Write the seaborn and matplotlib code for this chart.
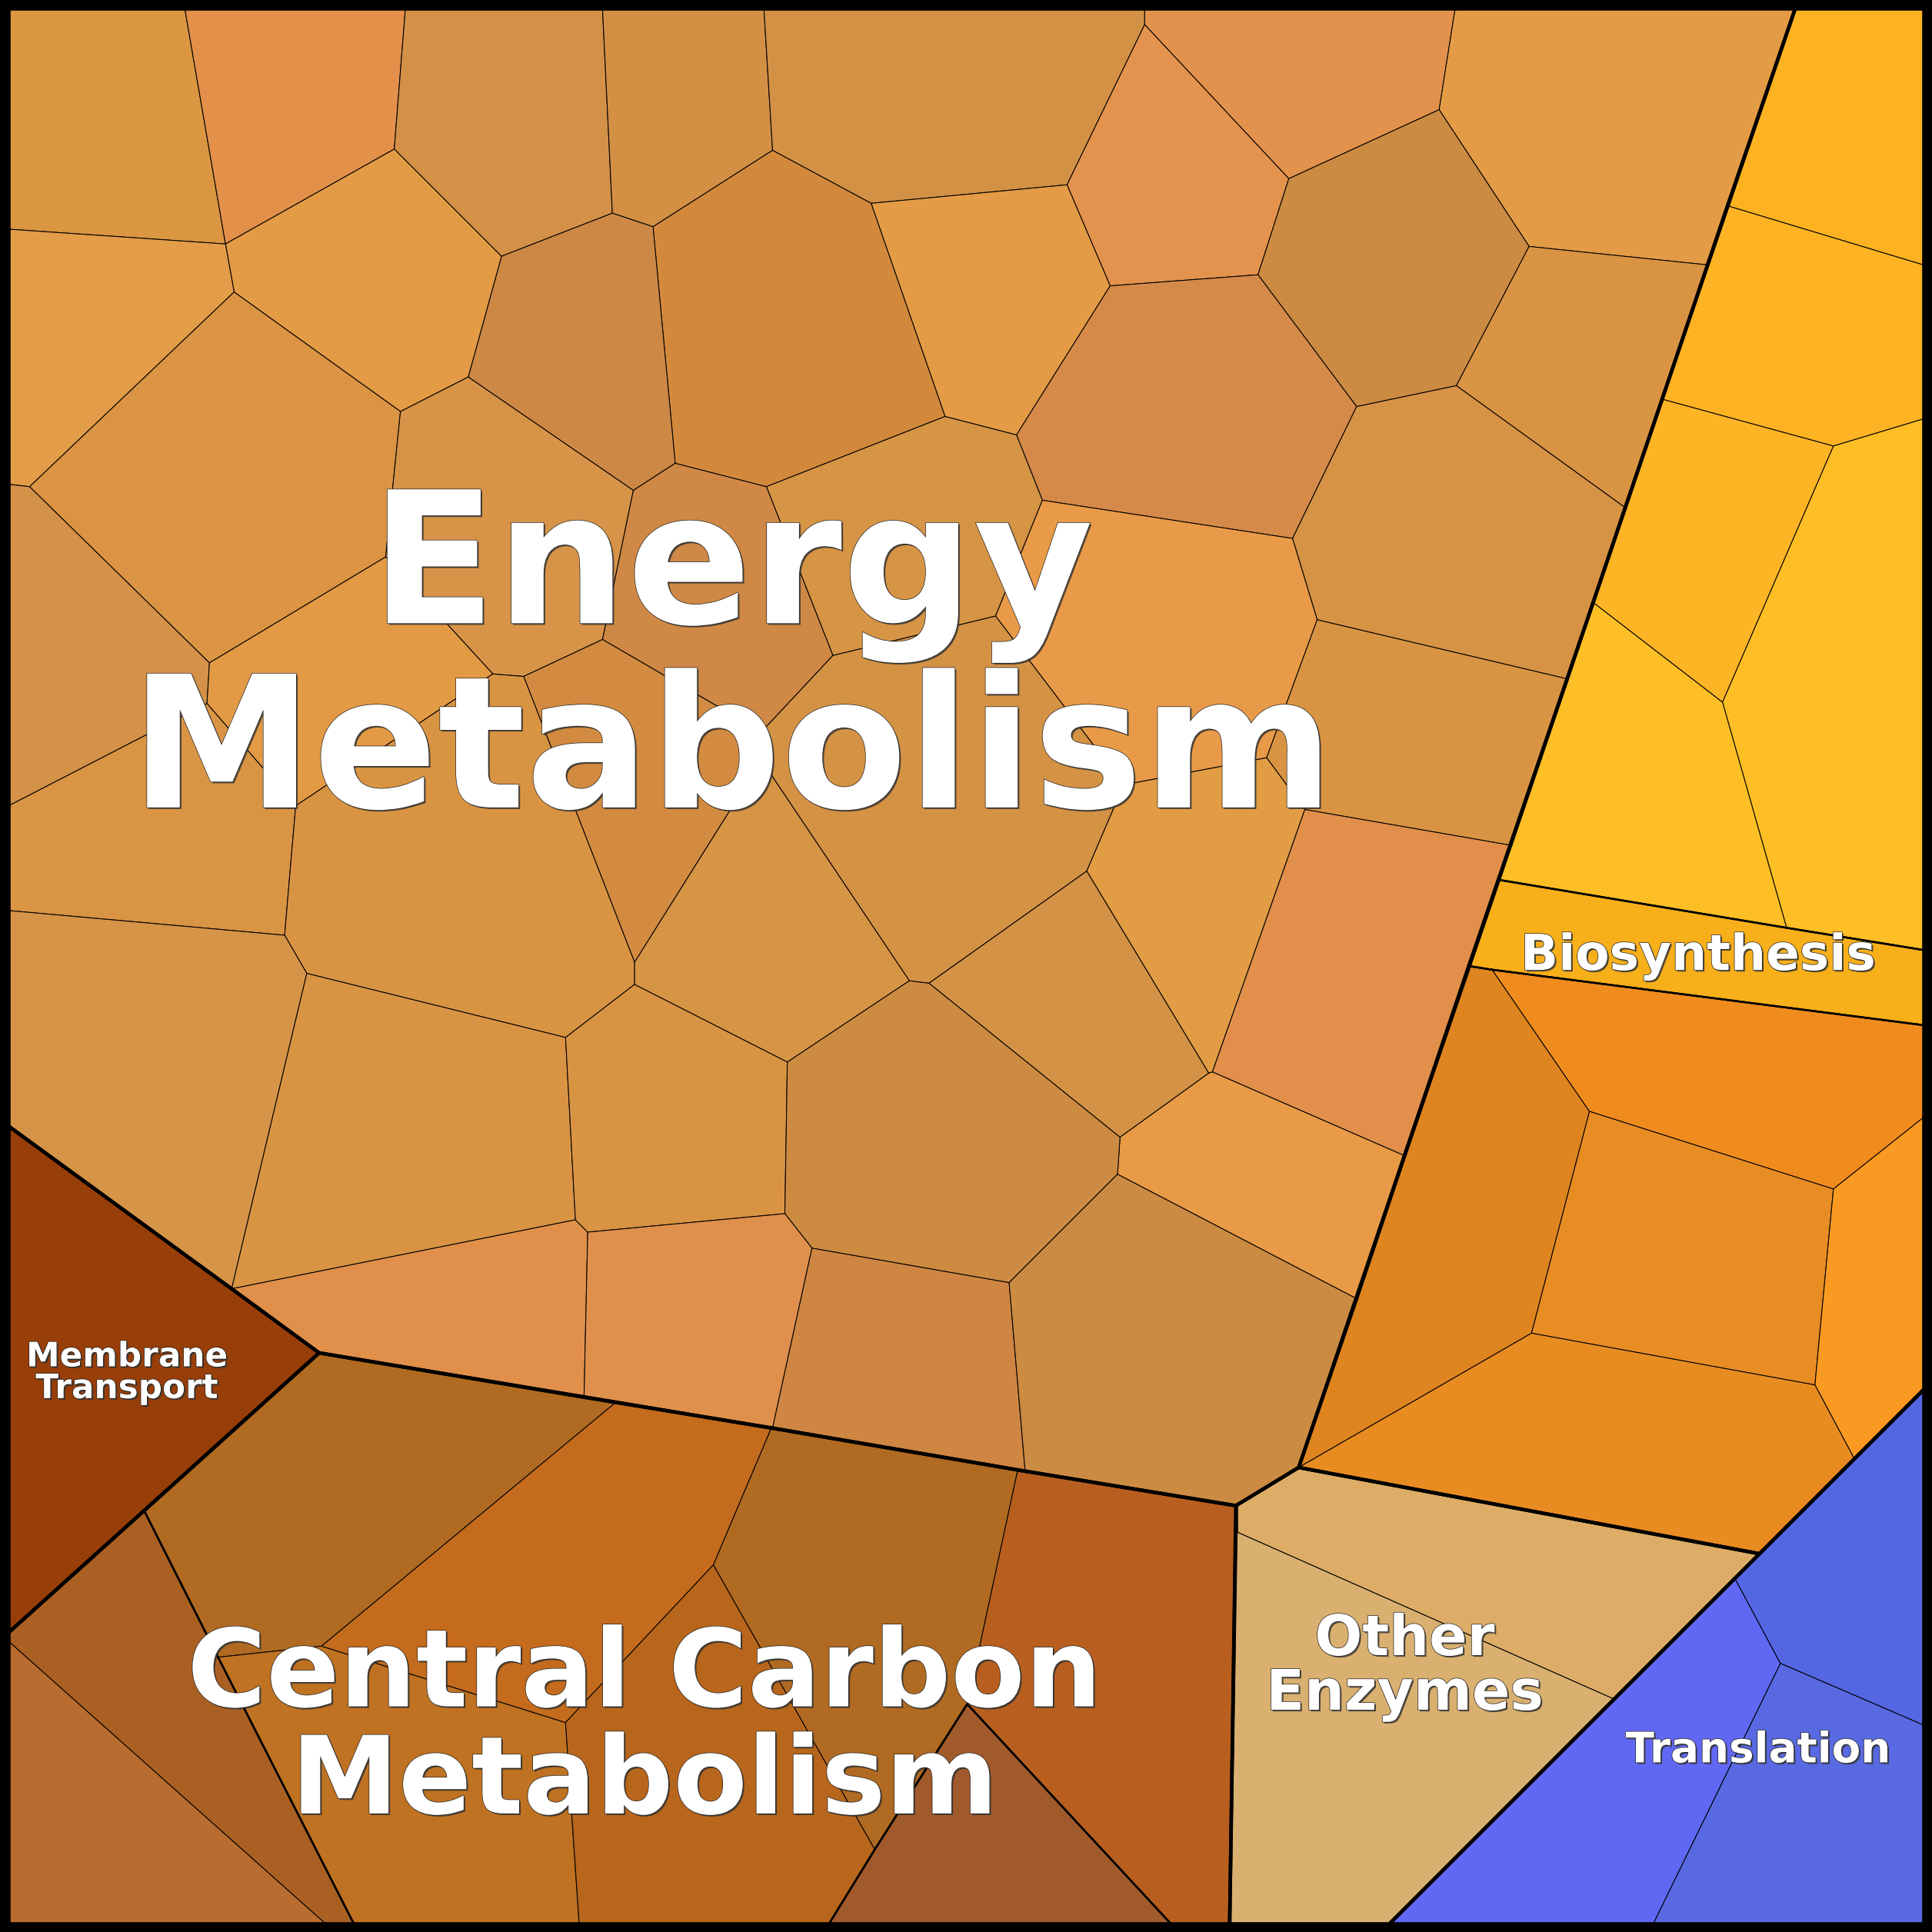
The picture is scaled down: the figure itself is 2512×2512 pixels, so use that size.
import matplotlib
matplotlib.use("Agg")
import matplotlib.pyplot as plt
import matplotlib.patheffects as pe
from matplotlib.patches import Polygon
from matplotlib.collections import LineCollection
import seaborn as sns

# inner edge of the black frame (layout grid is 1568 x 1568)
E0, E1 = 7, 1561

# Voronoi vertices
vertices = {
    "TL": (E0, E0), "TR": (E1, E0), "BR": (E1, E1), "BL": (E0, E1),
    "t1": (150, E0), "t2": (329, E0), "t3": (489, E0), "t4": (620, E0),
    "t5": (929, E0), "t6": (1181, E0), "t7": (1457, E0),
    "l1": (E0, 186), "l2": (E0, 393), "l3": (E0, 654), "l4": (E0, 739),
    "l5": (E0, 914), "l6": (E0, 1325), "l7": (E0, 1332),
    "r1": (E1, 215), "r2": (E1, 340), "r3": (E1, 771), "r4": (E1, 832),
    "r5": (E1, 907), "r6": (E1, 1128), "r7": (E1, 1400),
    "b1": (264, E1), "b2": (287, E1), "b3": (470, E1), "b4": (673, E1),
    "b5": (950, E1), "b6": (998, E1), "b7": (1128, E1), "b8": (1342, E1),
    # energy metabolism
    "b": (183, 198), "d": (320, 121), "e": (407, 208), "f": (497, 173),
    "g": (530, 184), "h": (627, 122), "i": (707, 165), "j": (866, 150),
    "k": (929, 20), "l": (1046, 145), "m": (1168, 89), "n": (1021, 223),
    "o": (901, 232), "p": (1241, 200), "r": (1182, 313), "s": (1101, 330),
    "u": (825, 353), "v": (767, 338), "w": (1049, 437), "x": (846, 406),
    "z": (1069, 503), "aa": (622, 395), "ab": (548, 376), "ac": (514, 398),
    "ad": (380, 306), "ae": (325, 334), "af": (190, 237), "ag": (24, 395),
    "ai": (313, 452), "aj": (170, 538), "ak": (168, 571), "am": (240, 654),
    "an": (400, 547), "ao": (425, 549), "ap": (489, 519), "aq": (676, 532),
    "ar": (808, 500), "as": (1028, 615), "at": (1059, 657), "av": (912, 637),
    "aw": (882, 707), "V2": (618, 594), "V1": (618, 617), "X1": (981, 871),
    "X2": (984, 870), "ay": (738, 796), "ax": (754, 798), "c1": (515, 781),
    "c2": (515, 799), "c3": (459, 842), "c4": (231, 759), "c5": (249, 790),
    "c6": (467, 990), "c7": (477, 1000), "c8": (637, 985), "c9": (639, 862),
    "c10": (659, 1013), "c11": (819, 1041), "c12": (907, 953), "c13": (909, 923),
    "q": (1386, 215), "t": (1319, 412), "y": (1272, 551), "au": (1226, 686),
    "d938": (1140, 938), "d1054": (1101, 1054), "D0": (1054, 1191), "D1": (1003, 1222),
    "eb1": (474, 1134), "eb2": (627, 1159), "eb3": (832, 1194),
    "mb": (188, 1046), "M0": (259, 1098),
    # central carbon metabolism
    "cm1": (117, 1226), "cc_a": (177, 1345), "cc_b": (261, 1336), "cc_c": (500, 1138),
    "cc_d": (459, 1398), "cc_e": (626, 1159), "cc_f": (579, 1270), "cc_g": (710, 1501),
    "cc_h": (826, 1193), "cc_i": (785, 1383),
    # biosynthesis
    "bd1": (1402, 167), "bd2": (1349, 324), "bd3": (1293, 489), "bd4": (1216, 714),
    "bd5": (1192, 784), "bi2": (1488, 362), "bi3": (1398, 570), "bi4": (1450, 753),
    "bi5": (1211, 787), "bo1": (1290, 902), "bo2": (1243, 1082), "bo3": (1488, 965),
    "bo4": (1473, 1124), "bo5": (1505, 1184), "bo6": (1428, 1261),
    # other enzymes / translation
    "oe_a": (1003, 1243), "oe_b": (1310, 1379),
    "tr_a": (1408, 1281), "tr_b": (1445, 1350),
}

group_names = ["Energy\nMetabolism", "Central Carbon\nMetabolism", "Membrane\nTransport",
               "Biosynthesis", "Other\nEnzymes", "Translation"]

energy_cells = [
    ["TL", "t1", "b", "l1"], ["t1", "t2", "d", "b"], ["t2", "t3", "f", "e", "d"],
    ["t3", "t4", "h", "g", "f"], ["t4", "t5", "k", "j", "i", "h"], ["t5", "t6", "m", "l", "k"],
    ["k", "l", "n", "o", "j"], ["t6", "t7", "q", "p", "m"], ["m", "p", "r", "s", "n", "l"],
    ["p", "q", "t", "r"], ["i", "j", "o", "u", "v"], ["o", "n", "s", "w", "x", "u"],
    ["s", "r", "t", "y", "z", "w"], ["g", "h", "i", "v", "aa", "ab"],
    ["e", "f", "g", "ab", "ac", "ad"], ["b", "d", "e", "ad", "ae", "af"],
    ["l1", "b", "af", "ag", "l2"], ["ag", "af", "ae", "ai", "aj"],
    ["l2", "ag", "aj", "ak", "l3"], ["v", "u", "x", "ar", "aq", "aa"],
    ["ae", "ad", "ac", "ap", "ao", "an", "ai"], ["ac", "ab", "aa", "aq", "V2", "ap"],
    ["aj", "ai", "an", "am", "ak"], ["x", "w", "z", "as", "av", "ar"],
    ["z", "y", "au", "at", "as"], ["ap", "V2", "V1", "c1", "ao"],
    ["aq", "ar", "av", "aw", "ax", "ay", "V1", "V2"], ["av", "as", "at", "X2", "X1", "aw"],
    ["at", "au", "d938", "X2"], ["l3", "ak", "am", "c4", "l4"],
    ["am", "an", "ao", "c1", "c2", "c3", "c5", "c4"], ["V1", "ay", "c9", "c2", "c1"],
    ["aw", "X1", "c13", "ax"], ["X1", "X2", "d938", "d1054", "c12", "c13"],
    ["l4", "c4", "c5", "mb", "l5"], ["c5", "c3", "c6", "mb"],
    ["mb", "c6", "c7", "eb1", "M0"], ["c3", "c2", "c9", "c8", "c7", "c6"],
    ["c9", "ay", "ax", "c13", "c12", "c11", "c10", "c8"], ["c7", "c8", "c10", "eb2", "eb1"],
    ["c10", "c11", "eb3", "eb2"], ["c11", "c12", "d1054", "D0", "D1", "eb3"],
]
energy_colors = [
    "#DA9641", "#E2904A", "#D39148", "#D39045", "#D39145", "#E3924D",
    "#E3934E", "#E39B45", "#CB8B42", "#D99443", "#E49B45", "#D68A49",
    "#D69245", "#D3893C", "#CD8845", "#E39B45", "#E39D48", "#DA9443",
    "#D49148", "#D69445", "#D79448", "#CF8845", "#E39A45", "#E99A48",
    "#D99443", "#D28B40", "#D49245", "#E29C44", "#E18F4A", "#D99444",
    "#D99443", "#D69445", "#D39245", "#E99A46", "#D69448", "#D99443",
    "#E0904A", "#D99443", "#CD8B42", "#E0904D", "#CF8642", "#CC8B42",
]
energy_sub = [0] * len(energy_cells)

carbon_cells = [
    ["l7", "b1", "BL"], ["l6", "cm1", "cc_a", "b2", "b1", "l7"],
    ["cm1", "M0", "cc_c", "cc_b", "cc_a"], ["cc_a", "cc_b", "cc_d", "b3", "b2"],
    ["cc_b", "cc_c", "cc_e", "cc_f", "cc_d"], ["cc_d", "cc_f", "cc_g", "b4", "b3"],
    ["cc_e", "cc_h", "cc_i", "cc_g", "cc_f"], ["cc_g", "cc_i", "b5", "b4"],
    ["cc_h", "D1", "b6", "b5", "cc_i"],
]
carbon_colors = ["#B86C2F", "#AB6023", "#B06A22", "#BF7222", "#C46B1D",
                 "#B8661C", "#B06A22", "#A05A2C", "#B85F20"]
carbon_sub = [0, 0, 1, 1, 1, 1, 1, 2, 1]

membrane_cells = [["l5", "mb", "M0", "cm1", "l6"]]
membrane_colors = ["#983E08"]
membrane_sub = [0]

bio_cells = [
    ["t7", "TR", "r1", "bd1"], ["bd1", "r1", "r2", "bi2", "bd2"],
    ["bd2", "bi2", "bi3", "bd3"], ["bi2", "r2", "r3", "bi4", "bi3"],
    ["bd3", "bi3", "bi4", "bd4"], ["bd4", "bi4", "r3", "r4", "bi5", "bd5"],
    ["bd5", "bi5", "bo1", "bo2", "D0"], ["bi5", "r4", "r5", "bo3", "bo1"],
    ["bo1", "bo3", "bo4", "bo2"], ["bo3", "r5", "r6", "bo5", "bo4"],
    ["D0", "bo2", "bo4", "bo5", "bo6"],
]
bio_colors = ["#FDB321", "#FDB323", "#FDB425", "#FEBE25", "#FEBF26", "#F7AF1A",
              "#DE8520", "#F08C1E", "#E88C24", "#FA9A22", "#E88C22"]
bio_sub = [0, 0, 0, 0, 0, 1, 2, 2, 2, 2, 2]

other_cells = [["D1", "D0", "bo6", "oe_b", "oe_a"], ["oe_a", "oe_b", "b7", "b6"]]
other_colors = ["#DDAD67", "#D9B070"]
other_sub = [0, 0]

trans_cells = [["b7", "tr_a", "tr_b", "b8"], ["tr_a", "r6", "r7", "tr_b"],
               ["tr_b", "r7", "BR", "b8"]]
trans_colors = ["#6068F3", "#5566E3", "#5869E1"]
trans_sub = [0, 0, 0]

all_cells = [energy_cells, carbon_cells, membrane_cells, bio_cells, other_cells, trans_cells]
all_colors = [energy_colors, carbon_colors, membrane_colors, bio_colors, other_colors, trans_colors]
all_subs = [energy_sub, carbon_sub, membrane_sub, bio_sub, other_sub, trans_sub]

# label anchor (layout grid) and font size for each group
label_pos = [(594, 540), (523, 1404), (103, 1114), (1378, 776), (1140, 1353), (1427, 1421)]
label_size = [172, 101, 31.5, 46.5, 52.5, 39.5]
label_spacing = [1.03, 1.03, 0.95, 1.0, 1.0, 1.0]


def outline(cell_list):
    count = {}
    for names in cell_list:
        for a, b in zip(names, names[1:] + names[:1]):
            key = frozenset((a, b))
            count[key] = count.get(key, 0) + 1
    return [[vertices[n] for n in key] for key, c in count.items() if c == 1]


sns.set_theme(style="white")
plt.rcParams["font.family"] = ["DejaVu Sans"]

fig = plt.figure(figsize=(25.12, 25.12), dpi=100, facecolor="black")
ax = fig.add_axes([0, 0, 1, 1])
ax.set_facecolor("black")
ax.set_xlim(0, 1568)
ax.set_ylim(1568, 0)
ax.axis("off")

sub_lines, group_lines = [], []
for cells, colors, subs in zip(all_cells, all_colors, all_subs):
    for names, col in zip(cells, colors):
        ax.add_patch(Polygon([vertices[n] for n in names], closed=True, facecolor=col,
                             edgecolor="black", linewidth=0.75, joinstyle="miter", zorder=1))
    for sid in sorted(set(subs)):
        sub_lines += outline([c for c, s in zip(cells, subs) if s == sid])
    group_lines += outline(cells)

ax.add_collection(LineCollection(sub_lines, colors="black", linewidths=1.8, zorder=2,
                                 capstyle="round"))
ax.add_collection(LineCollection(group_lines, colors="black", linewidths=3.3, zorder=3,
                                 capstyle="round"))

effects = [pe.SimplePatchShadow(offset=(1.5, -1.5), shadow_rgbFace="#333333", alpha=0.8),
           pe.Stroke(linewidth=1.0, foreground="#222222"), pe.Normal()]
for name, (lx, ly), fs, ls in zip(group_names, label_pos, label_size, label_spacing):
    ax.text(lx, ly, name, ha="center", va="center", multialignment="center",
            fontsize=fs, fontweight="bold", color="white", linespacing=ls,
            path_effects=effects, zorder=5)

fig.savefig("out.png", dpi=100, facecolor="black")
